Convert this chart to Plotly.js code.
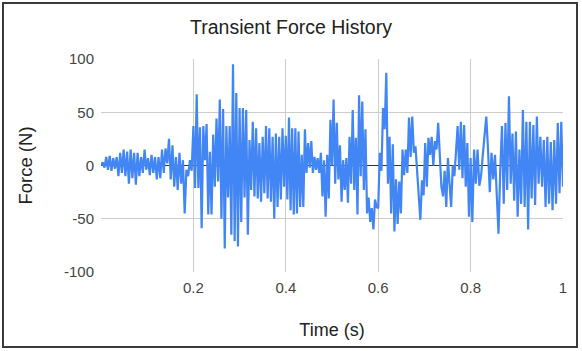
<!DOCTYPE html>
<html>
<head>
<meta charset="utf-8">
<script src="https://cdn.plot.ly/plotly-3.0.1.min.js"></script>
<style>
  html, body { margin: 0; padding: 0; background: #fff; }
  #wrap { position: relative; width: 582px; height: 351px; }
  #chart { width: 582px; height: 351px; }
  #frame { position: absolute; left: 2px; top: 2px; width: 572px; height: 342px;
           border: 2px solid #3a3a3a; pointer-events: none; }
</style>
</head>
<body>
<div id="wrap"><div id="chart"></div><div id="frame"></div></div>
<script>
// Segment boundaries in seconds (each value array is spread evenly over its segment)
const segmentBounds = [0, 0.2, 0.4, 0.6, 0.8, 1.0];

// Force (N), per segment
const force_000_020 = [0, 3, -2, 8, -4, 9, -5, 7, -3, 8, -10, 12, -7, 15, -10, 13, -17, 15, -12, 12,
  -18, 12, -10, 8, -7, 15, -4, 7, -9, 10, -7, 8, -13, 8, -12, 15, -7, 16, 2, 25,
  -13, 19, -20, 8, -23, 12, -17, 5, -45, -4, -10, 5, -5];
const force_020_040 = [37, -21, 67, -21, 36, -59, 37, 5, 39, -46, 13, -46, 29, -20, 44, -15, 62, -50, 53, -78,
  37, -30, 37, -65, 95, -71, 68, -76, 54, -53, 54, -30, 52, -65, 24, -23, 41, -29, 35, -31,
  21, -34, 27, -26, 37, -31, 35, -34, 27, -50, 30, -39, 27, -32, 35, -20];
const force_040_060 = [28, -32, 45, -42, 35, -46, 35, -45, 32, -39, 10, -39, 34, -7, 21, -2, 23, -7, 8, -4,
  7, -7, 12, -29, 5, -48, 10, -31, 43, 0, 62, -17, 40, -13, 19, -34, 5, -23, 7, -35,
  27, -17, 52, -23, 26, -46, 66, -10, 60, -23, 34, -45, -30, -53, -40, -60, -32, -39];
const force_060_080 = [-40, 12, -5, 54, 34, 87, -17, 27, -45, 20, -62, -13, -55, -15, -45, 15, -9, 15, -7, 45,
  8, 46, 12, 18, -5, -25, -51, -14, -28, 21, -20, 26, 10, 27, 0, 23, 15, 40, 15, -20,
  -29, -5, -39, 7, -17, -39, 0, -10, 13, 37, -4, 41, -12, 38, -20, 21, -48];
const force_080_100 = [7, -53, 15, -17, 15, -19, -10, 10, 30, 46, 15, -25, 12, -13, 10, -30, -64, -5, 37, -36,
  40, -23, 65, -17, 30, -33, 32, -48, 15, -36, 52, -39, 41, -60, 41, -31, 38, -37, 46, -17,
  27, -20, 24, -39, 27, -36, 22, -42, 24, -36, 40, -26, 41, -20];

const yTickVals = [-100, -50, 0, 50, 100];
const yTickText = ['-100', '-50', '0', '50', '100'];
const xTickVals = [0.2, 0.4, 0.6, 0.8, 1.0];
const xTickText = ['0.2', '0.4', '0.6', '0.8', '1'];

const segments = [force_000_020, force_020_040, force_040_060, force_060_080, force_080_100];
const t = [], f = [];
segments.forEach((vals, k) => {
  const a = segmentBounds[k], b = segmentBounds[k + 1];
  const last = k === segments.length - 1;
  const n = last ? vals.length - 1 : vals.length;
  vals.forEach((v, i) => { t.push(a + i * (b - a) / n); f.push(v); });
});

const FONT = '"Liberation Sans", Arial, sans-serif';

Plotly.newPlot('chart', [{
  x: t, y: f, type: 'scatter', mode: 'lines',
  line: { color: '#4285F4', width: 2.2 }, hoverinfo: 'skip'
}], {
  width: 582, height: 351,
  margin: { l: 101, r: 19, t: 59, b: 79 },
  paper_bgcolor: '#fff', plot_bgcolor: '#fff',
  showlegend: false,
  font: { family: FONT, color: '#444' },
  title: { text: 'Transient Force History', font: { family: FONT, size: 19.5, color: '#222' },
           x: 0.5, xref: 'container', xanchor: 'center', y: 1 - 27 / 351, yref: 'container', yanchor: 'middle' },
  xaxis: {
    range: [0, 1], tickvals: xTickVals, ticktext: xTickText,
    showgrid: true, gridcolor: '#cccccc', gridwidth: 1, zeroline: false, showline: false,
    ticks: '', tickfont: { size: 15, color: '#444' }, ticklabelstandoff: 5,
    title: { text: 'Time (s)', font: { size: 18, color: '#222' }, standoff: 28 },
    automargin: false, fixedrange: true
  },
  yaxis: {
    range: [-100, 100], tickvals: yTickVals, ticktext: yTickText,
    showgrid: true, gridcolor: '#cccccc', gridwidth: 1,
    zeroline: true, zerolinecolor: '#333', zerolinewidth: 1, showline: false,
    ticks: '', tickfont: { size: 15, color: '#444' }, ticklabelstandoff: 6,
    title: { text: 'Force (N)', font: { size: 18.5, color: '#222' }, standoff: 26 },
    automargin: false, fixedrange: true
  }
}, { staticPlot: true, displayModeBar: false });
</script>
</body>
</html>
